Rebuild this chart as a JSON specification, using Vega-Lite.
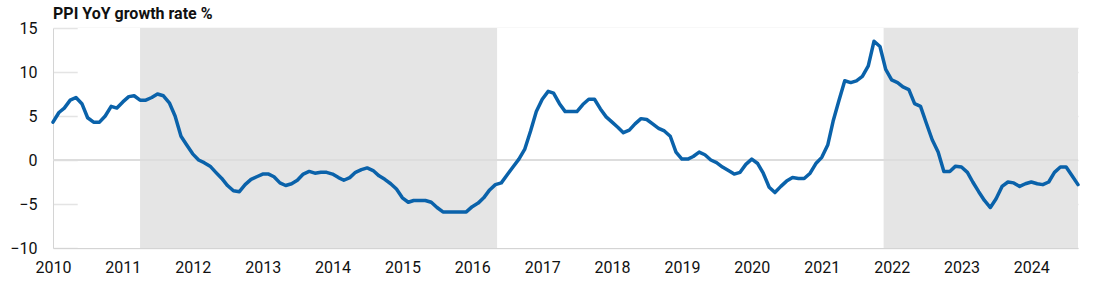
{
  "$schema": "https://vega.github.io/schema/vega-lite/v6.json",
  "width": 1025,
  "height": 220,
  "autosize": "none",
  "padding": {"left": 53, "top": 28, "right": 22, "bottom": 33},
  "background": "white",
  "config": {
    "view": {"stroke": null},
    "font": "Roboto",
    "axis": {"labelFont": "Roboto", "labelFontSize": 16, "labelColor": "#111111"}
  },
  "title": {
    "text": "PPI YoY growth rate %",
    "anchor": "start",
    "frame": "group",
    "font": "Roboto",
    "fontSize": 16,
    "fontWeight": "bold",
    "color": "#111111",
    "offset": -2
  },
  "datasets": {
    "bands": [
      {"start": "2010-05-10", "end": "2024-09-01", "kind": "plain"},
      {"start": "2011-04-01", "end": "2016-05-10", "kind": "shaded"},
      {"start": "2021-11-20", "end": "2024-09-01", "kind": "shaded"}
    ],
    "ppi": [
      {"date": "2010-01-01", "value": 4.3},
      {"date": "2010-02-01", "value": 5.4},
      {"date": "2010-03-01", "value": 5.9},
      {"date": "2010-04-01", "value": 6.8},
      {"date": "2010-05-01", "value": 7.1},
      {"date": "2010-06-01", "value": 6.4},
      {"date": "2010-07-01", "value": 4.8},
      {"date": "2010-08-01", "value": 4.3},
      {"date": "2010-09-01", "value": 4.3},
      {"date": "2010-10-01", "value": 5.0},
      {"date": "2010-11-01", "value": 6.1},
      {"date": "2010-12-01", "value": 5.9},
      {"date": "2011-01-01", "value": 6.6},
      {"date": "2011-02-01", "value": 7.2},
      {"date": "2011-03-01", "value": 7.3},
      {"date": "2011-04-01", "value": 6.8},
      {"date": "2011-05-01", "value": 6.8},
      {"date": "2011-06-01", "value": 7.1},
      {"date": "2011-07-01", "value": 7.5},
      {"date": "2011-08-01", "value": 7.3},
      {"date": "2011-09-01", "value": 6.5},
      {"date": "2011-10-01", "value": 5.0},
      {"date": "2011-11-01", "value": 2.7},
      {"date": "2011-12-01", "value": 1.7},
      {"date": "2012-01-01", "value": 0.7},
      {"date": "2012-02-01", "value": 0.0},
      {"date": "2012-03-01", "value": -0.3},
      {"date": "2012-04-01", "value": -0.7},
      {"date": "2012-05-01", "value": -1.4},
      {"date": "2012-06-01", "value": -2.1},
      {"date": "2012-07-01", "value": -2.9},
      {"date": "2012-08-01", "value": -3.5},
      {"date": "2012-09-01", "value": -3.6},
      {"date": "2012-10-01", "value": -2.8},
      {"date": "2012-11-01", "value": -2.2},
      {"date": "2012-12-01", "value": -1.9},
      {"date": "2013-01-01", "value": -1.6},
      {"date": "2013-02-01", "value": -1.6},
      {"date": "2013-03-01", "value": -1.9},
      {"date": "2013-04-01", "value": -2.6},
      {"date": "2013-05-01", "value": -2.9},
      {"date": "2013-06-01", "value": -2.7},
      {"date": "2013-07-01", "value": -2.3},
      {"date": "2013-08-01", "value": -1.6},
      {"date": "2013-09-01", "value": -1.3},
      {"date": "2013-10-01", "value": -1.5},
      {"date": "2013-11-01", "value": -1.4},
      {"date": "2013-12-01", "value": -1.4},
      {"date": "2014-01-01", "value": -1.6},
      {"date": "2014-02-01", "value": -2.0},
      {"date": "2014-03-01", "value": -2.3},
      {"date": "2014-04-01", "value": -2.0},
      {"date": "2014-05-01", "value": -1.4},
      {"date": "2014-06-01", "value": -1.1},
      {"date": "2014-07-01", "value": -0.9},
      {"date": "2014-08-01", "value": -1.2},
      {"date": "2014-09-01", "value": -1.8},
      {"date": "2014-10-01", "value": -2.2},
      {"date": "2014-11-01", "value": -2.7},
      {"date": "2014-12-01", "value": -3.3},
      {"date": "2015-01-01", "value": -4.3},
      {"date": "2015-02-01", "value": -4.8},
      {"date": "2015-03-01", "value": -4.6},
      {"date": "2015-04-01", "value": -4.6},
      {"date": "2015-05-01", "value": -4.6},
      {"date": "2015-06-01", "value": -4.8},
      {"date": "2015-07-01", "value": -5.4},
      {"date": "2015-08-01", "value": -5.9},
      {"date": "2015-09-01", "value": -5.9},
      {"date": "2015-10-01", "value": -5.9},
      {"date": "2015-11-01", "value": -5.9},
      {"date": "2015-12-01", "value": -5.9},
      {"date": "2016-01-01", "value": -5.3},
      {"date": "2016-02-01", "value": -4.9},
      {"date": "2016-03-01", "value": -4.3},
      {"date": "2016-04-01", "value": -3.4},
      {"date": "2016-05-01", "value": -2.8},
      {"date": "2016-06-01", "value": -2.6},
      {"date": "2016-07-01", "value": -1.7},
      {"date": "2016-08-01", "value": -0.8},
      {"date": "2016-09-01", "value": 0.1},
      {"date": "2016-10-01", "value": 1.2},
      {"date": "2016-11-01", "value": 3.3},
      {"date": "2016-12-01", "value": 5.5},
      {"date": "2017-01-01", "value": 6.9},
      {"date": "2017-02-01", "value": 7.8},
      {"date": "2017-03-01", "value": 7.6},
      {"date": "2017-04-01", "value": 6.4},
      {"date": "2017-05-01", "value": 5.5},
      {"date": "2017-06-01", "value": 5.5},
      {"date": "2017-07-01", "value": 5.5},
      {"date": "2017-08-01", "value": 6.3},
      {"date": "2017-09-01", "value": 6.9},
      {"date": "2017-10-01", "value": 6.9},
      {"date": "2017-11-01", "value": 5.8},
      {"date": "2017-12-01", "value": 4.9},
      {"date": "2018-01-01", "value": 4.3},
      {"date": "2018-02-01", "value": 3.7},
      {"date": "2018-03-01", "value": 3.1},
      {"date": "2018-04-01", "value": 3.4},
      {"date": "2018-05-01", "value": 4.1},
      {"date": "2018-06-01", "value": 4.7},
      {"date": "2018-07-01", "value": 4.6},
      {"date": "2018-08-01", "value": 4.1},
      {"date": "2018-09-01", "value": 3.6},
      {"date": "2018-10-01", "value": 3.3},
      {"date": "2018-11-01", "value": 2.7},
      {"date": "2018-12-01", "value": 0.9},
      {"date": "2019-01-01", "value": 0.1},
      {"date": "2019-02-01", "value": 0.1},
      {"date": "2019-03-01", "value": 0.4},
      {"date": "2019-04-01", "value": 0.9},
      {"date": "2019-05-01", "value": 0.6},
      {"date": "2019-06-01", "value": 0.0},
      {"date": "2019-07-01", "value": -0.3},
      {"date": "2019-08-01", "value": -0.8},
      {"date": "2019-09-01", "value": -1.2},
      {"date": "2019-10-01", "value": -1.6},
      {"date": "2019-11-01", "value": -1.4},
      {"date": "2019-12-01", "value": -0.5},
      {"date": "2020-01-01", "value": 0.1},
      {"date": "2020-02-01", "value": -0.4},
      {"date": "2020-03-01", "value": -1.5},
      {"date": "2020-04-01", "value": -3.1},
      {"date": "2020-05-01", "value": -3.7},
      {"date": "2020-06-01", "value": -3.0},
      {"date": "2020-07-01", "value": -2.4},
      {"date": "2020-08-01", "value": -2.0},
      {"date": "2020-09-01", "value": -2.1},
      {"date": "2020-10-01", "value": -2.1},
      {"date": "2020-11-01", "value": -1.5},
      {"date": "2020-12-01", "value": -0.4},
      {"date": "2021-01-01", "value": 0.3},
      {"date": "2021-02-01", "value": 1.7},
      {"date": "2021-03-01", "value": 4.4},
      {"date": "2021-04-01", "value": 6.8},
      {"date": "2021-05-01", "value": 9.0},
      {"date": "2021-06-01", "value": 8.8},
      {"date": "2021-07-01", "value": 9.0},
      {"date": "2021-08-01", "value": 9.5},
      {"date": "2021-09-01", "value": 10.7},
      {"date": "2021-10-01", "value": 13.5},
      {"date": "2021-11-01", "value": 12.9},
      {"date": "2021-12-01", "value": 10.3},
      {"date": "2022-01-01", "value": 9.1},
      {"date": "2022-02-01", "value": 8.8},
      {"date": "2022-03-01", "value": 8.3},
      {"date": "2022-04-01", "value": 8.0},
      {"date": "2022-05-01", "value": 6.4},
      {"date": "2022-06-01", "value": 6.1},
      {"date": "2022-07-01", "value": 4.2},
      {"date": "2022-08-01", "value": 2.3},
      {"date": "2022-09-01", "value": 0.9},
      {"date": "2022-10-01", "value": -1.3},
      {"date": "2022-11-01", "value": -1.3},
      {"date": "2022-12-01", "value": -0.7},
      {"date": "2023-01-01", "value": -0.8},
      {"date": "2023-02-01", "value": -1.4},
      {"date": "2023-03-01", "value": -2.5},
      {"date": "2023-04-01", "value": -3.6},
      {"date": "2023-05-01", "value": -4.6},
      {"date": "2023-06-01", "value": -5.4},
      {"date": "2023-07-01", "value": -4.4},
      {"date": "2023-08-01", "value": -3.0},
      {"date": "2023-09-01", "value": -2.5},
      {"date": "2023-10-01", "value": -2.6},
      {"date": "2023-11-01", "value": -3.0},
      {"date": "2023-12-01", "value": -2.7},
      {"date": "2024-01-01", "value": -2.5},
      {"date": "2024-02-01", "value": -2.7},
      {"date": "2024-03-01", "value": -2.8},
      {"date": "2024-04-01", "value": -2.5},
      {"date": "2024-05-01", "value": -1.4},
      {"date": "2024-06-01", "value": -0.8},
      {"date": "2024-07-01", "value": -0.8},
      {"date": "2024-08-01", "value": -1.8},
      {"date": "2024-09-01", "value": -2.8}
    ]
  },
  "layer": [
    {
      "data": {"name": "bands"},
      "transform": [{"filter": "datum.kind === 'plain'"}],
      "mark": {"type": "rect", "color": "white"},
      "encoding": {
        "x": {
          "field": "start", "type": "temporal",
          "scale": {"type": "utc", "domain": [{"year": 2010, "month": 1, "date": 1, "utc": true}, {"year": 2024, "month": 9, "date": 1, "utc": true}], "nice": false},
          "axis": {
            "title": null, "format": "%Y", "tickCount": "year", "ticks": false, "grid": false,
            "domainColor": "#d4d4d4", "labelPadding": 11, "zindex": 1, "labelFlush": false
          }
        },
        "x2": {"field": "end"}
      }
    },
    {
      "data": {"name": "bands"},
      "transform": [{"filter": "datum.kind === 'shaded'"}],
      "mark": {"type": "rect", "color": "#e5e5e5"},
      "encoding": {
        "x": {"field": "start", "type": "temporal"},
        "x2": {"field": "end"}
      }
    },
    {
      "data": {"name": "ppi"},
      "mark": {"type": "rule", "color": "#dddddd", "strokeWidth": 1.5},
      "encoding": {"y": {"datum": 0, "type": "quantitative"}}
    },
    {
      "data": {"name": "ppi"},
      "mark": {"type": "line", "color": "#0a62aa", "strokeWidth": 3.5, "strokeJoin": "round", "strokeCap": "round"},
      "encoding": {
        "x": {"field": "date", "type": "temporal"},
        "y": {
          "field": "value", "type": "quantitative",
          "scale": {"domain": [-10, 15], "nice": false},
          "axis": {
            "title": null, "values": [-10, -5, 0, 5, 10, 15], "ticks": false,
            "grid": true, "gridColor": "#e4e4e4", "gridWidth": 1.5,
            "domainColor": "#d4d4d4", "labelPadding": 16, "zindex": 0, "labelFlush": false
          }
        }
      }
    }
  ]
}
